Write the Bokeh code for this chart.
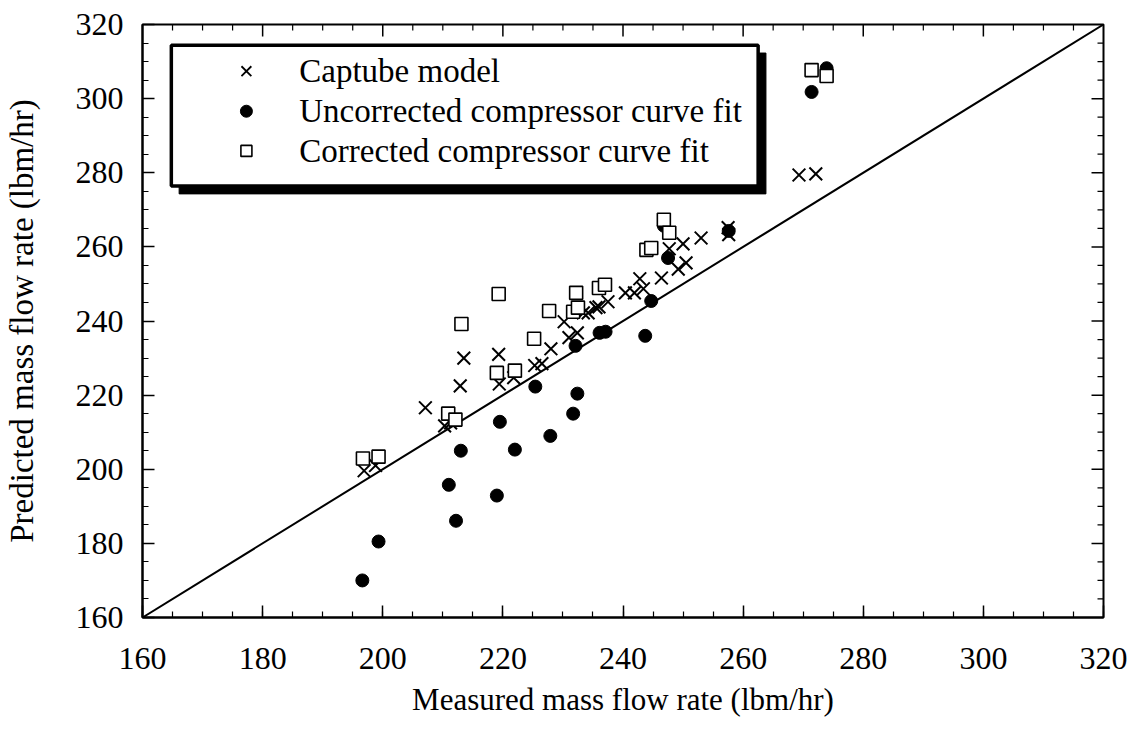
import numpy as np
from bokeh.plotting import figure
from bokeh.models import LinearAxis, SingleIntervalTicker, Range1d
from bokeh.core.properties import value
from bokeh.embed import file_html
from bokeh.resources import INLINE

# Measured vs. predicted mass flow rate (lbm/hr)
captube_measured = [196.9, 198.8, 207.1, 210.3, 211.3, 212.9, 213.5, 219.3, 219.4, 221.8,
                    225.3, 226.5, 228.0, 230.2, 231.0, 232.4, 233.4, 234.2, 235.5, 236.0,
                    237.5, 240.4, 241.9, 242.8, 243.4, 246.4, 247.7, 249.2, 250.0, 250.5,
                    253.0, 257.5, 257.6, 269.3, 272.1]
captube_predicted = [199.6, 201.0, 216.6, 211.7, 212.5, 222.5, 230.0, 231.0, 223.0, 224.7,
                     228.0, 228.5, 232.5, 239.8, 235.5, 236.8, 242.2, 242.2, 243.6, 243.8,
                     245.2, 247.6, 247.6, 251.4, 248.7, 251.6, 259.5, 254.0, 260.8, 255.7,
                     262.4, 265.2, 263.3, 279.4, 279.7]

uncorr_measured = [196.6, 199.3, 211.0, 212.2, 213.0, 219.0, 219.5, 222.0, 225.4, 227.9,
                   231.7, 232.4, 232.1, 236.1, 237.1, 243.7, 244.7, 246.8, 247.5, 257.6,
                   271.4, 273.9]
uncorr_predicted = [170.0, 180.5, 195.8, 186.1, 205.0, 192.9, 212.8, 205.3, 222.3, 209.0,
                    215.0, 220.4, 233.3, 236.8, 237.1, 236.0, 245.4, 265.7, 257.0, 264.3,
                    301.8, 308.2]

corr_measured = [196.7, 199.3, 210.9, 212.1, 213.1, 219.0, 219.3, 222.0, 225.2, 227.7,
                 231.7, 232.2, 232.5, 236.0, 237.0, 243.9, 244.7, 246.8, 247.7, 271.4,
                 273.9]
corr_predicted = [202.9, 203.4, 215.0, 213.4, 239.2, 226.0, 247.3, 226.6, 235.2, 242.7,
                  242.5, 247.6, 243.6, 248.9, 249.8, 259.2, 259.7, 267.3, 263.8, 307.7,
                  306.1]

series_names = ["Captube model", "Uncorrected compressor curve fit",
                "Corrected compressor curve fit"]
axis_min, axis_max = 160, 320
major_step, minor_step = 20, 5

FONT = "Liberation Serif"
FRAME_W, FRAME_H = 962, 593

p = figure(width=1130, height=730, output_backend="svg", toolbar_location=None,
           x_range=Range1d(axis_min, axis_max), y_range=Range1d(axis_min, axis_max),
           min_border_left=141, min_border_right=27, min_border_top=24,
           min_border_bottom=113, x_axis_location=None, y_axis_location=None)
p.grid.visible = False
p.background_fill_color = "white"
p.border_fill_color = "white"
p.outline_line_color = "black"
p.outline_line_width = 2


def make_axis(title, title_size):
    ax = LinearAxis(ticker=SingleIntervalTicker(interval=major_step,
                                                num_minor_ticks=major_step // minor_step))
    ax.axis_line_width = 2
    ax.major_tick_in = 12
    ax.major_tick_out = 0
    ax.minor_tick_in = 6
    ax.minor_tick_out = 0
    ax.major_tick_line_width = 1.5
    ax.minor_tick_line_width = 1.2
    ax.major_label_text_font = FONT
    ax.major_label_text_font_size = "32px"
    ax.major_label_text_color = "black"
    ax.axis_label = title
    ax.axis_label_text_font = FONT
    ax.axis_label_text_font_size = title_size
    ax.axis_label_text_font_style = "normal"
    ax.axis_label_text_color = "black"
    return ax


xb = make_axis("Measured mass flow rate (lbm/hr)", "31px")
xb.major_label_standoff = 30
xb.axis_label_standoff = 10
yl = make_axis("Predicted mass flow rate (lbm/hr)", "33px")
yl.major_label_standoff = 19
yl.axis_label_standoff = 33
p.add_layout(xb, "below")
p.add_layout(yl, "left")

# mirrored inward ticks on the top and right edges of the frame
units_per_px_x = (axis_max - axis_min) / FRAME_W
units_per_px_y = (axis_max - axis_min) / FRAME_H
tick_vals = np.arange(axis_min + minor_step, axis_max, minor_step)
is_major = (tick_vals - axis_min) % major_step == 0
tick_len_px = np.where(is_major, 12, 6)
p.segment(x0=tick_vals, x1=tick_vals,
          y0=np.full(tick_vals.shape, axis_max),
          y1=axis_max - tick_len_px * units_per_px_y,
          line_color="black", line_width=np.where(is_major, 1.5, 1.2))
p.segment(x0=np.full(tick_vals.shape, axis_max),
          x1=axis_max - tick_len_px * units_per_px_x,
          y0=tick_vals, y1=tick_vals,
          line_color="black", line_width=np.where(is_major, 1.5, 1.2))

# 1:1 reference line
p.line([axis_min, axis_max], [axis_min, axis_max], line_color="black", line_width=2)

# data series
p.scatter(captube_measured, captube_predicted, marker="x", size=18,
          line_color="black", line_width=2)
p.scatter(uncorr_measured, uncorr_predicted, marker="circle", size=13,
          fill_color="black", line_color="black")
p.scatter(corr_measured, corr_predicted, marker="square", size=13,
          fill_color="white", line_color="black", line_width=1.6)

# boxed legend with drop shadow
box_l, box_r, box_t, box_b = 164.8, 262.5, 314.4, 276.4
shadow_dx, shadow_dy = 1.3, 2.1
p.quad(left=[box_l + shadow_dx], right=[box_r + shadow_dx],
       top=[box_t - shadow_dy], bottom=[box_b - shadow_dy],
       fill_color="black", line_color="black")
p.quad(left=[box_l], right=[box_r], top=[box_t], bottom=[box_b],
       fill_color="white", line_color="black", line_width=3.5)

row_y = [307.4, 296.6, 285.9]
mark_x = 177.3
text_x = 186.1
p.scatter([mark_x], [row_y[0]], marker="x", size=14, line_color="black", line_width=1.8)
p.scatter([mark_x], [row_y[1]], marker="circle", size=12, fill_color="black", line_color="black")
p.scatter([mark_x], [row_y[2]], marker="square", size=11, fill_color="white",
          line_color="black", line_width=1.6)
p.text([text_x] * 3, row_y, text=series_names, text_font=value(FONT),
       text_font_size="33px", text_baseline="middle", text_align="left",
       text_color="black")

open("out.html", "w").write(file_html(p, INLINE))
